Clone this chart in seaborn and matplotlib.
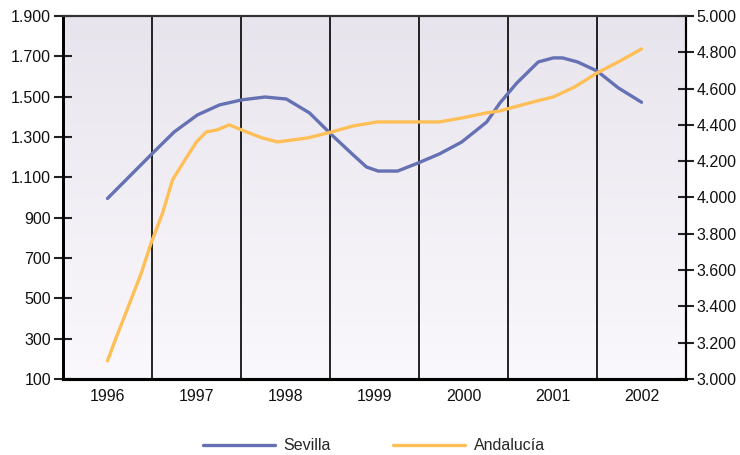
import numpy as np
import pandas as pd
import matplotlib
matplotlib.use("Agg")
import matplotlib.pyplot as plt
from matplotlib.ticker import FixedLocator, FuncFormatter
import seaborn as sns

# Year categories on the x axis
years = [1996, 1997, 1998, 1999, 2000, 2001, 2002]

# Sevilla (left axis)
sevilla_t = [1996.00, 1996.51, 1996.75, 1997.01, 1997.26, 1997.51, 1997.77, 1998.01,
             1998.27, 1998.52, 1998.76, 1998.91, 1999.04, 1999.26, 1999.49, 1999.73,
             1999.98, 2000.26, 2000.41, 2000.60, 2000.84, 2001.01, 2001.11, 2001.28,
             2001.50, 2001.74, 2002.00]
sevilla_v = [995, 1221, 1325, 1409, 1459, 1484, 1498, 1488,
             1419, 1310, 1211, 1151, 1131, 1131, 1171, 1216,
             1275, 1374, 1469, 1568, 1672, 1692, 1692, 1672,
             1627, 1543, 1472]

# Andalucía (right axis)
andalucia_t = [1996.00, 1996.10, 1996.25, 1996.38, 1996.49, 1996.62, 1996.73, 1996.87,
               1997.00, 1997.11, 1997.23, 1997.37, 1997.56, 1997.74, 1997.91, 1998.25,
               1998.52, 1998.76, 1999.03, 1999.73, 1999.98, 2000.26, 2000.41, 2000.78,
               2001.01, 2001.25, 2001.50, 2001.74, 2002.00]
andalucia_v = [3100, 3231, 3419, 3584, 3749, 3915, 4096, 4207,
               4306, 4361, 4372, 4400, 4361, 4328, 4306, 4328,
               4361, 4394, 4416, 4416, 4438, 4466, 4477, 4526,
               4554, 4609, 4686, 4747, 4818]

left_ticks = list(range(100, 2000, 200))
right_ticks = list(range(3000, 5200, 200))

BLUE = "#6571b3"
ORANGE = "#ffbf57"
FS = 11.5

sns.set_style("white")
plt.rcParams["font.family"] = ["Liberation Sans", "DejaVu Sans"]


def miles(v, pos):
    return f"{int(v):,}".replace(",", ".")


df_s = pd.DataFrame({"t": sevilla_t, "v": sevilla_v})
df_a = pd.DataFrame({"t": andalucia_t, "v": andalucia_v})

fig = plt.figure(figsize=(7.4, 4.55), dpi=100)
ax = fig.add_axes([0.0851, 0.167, 0.842, 0.798])
ax2 = ax.twinx()

# soft vertical gradient background
grad = np.linspace(0, 1, 256).reshape(-1, 1)
top = np.array([232, 228, 237]) / 255
bot = np.array([250, 248, 252]) / 255
img = bot + (top - bot) * grad[:, :, None]
ax.imshow(img, extent=[0, 1, 0, 1], transform=ax.transAxes, aspect="auto",
          origin="lower", zorder=0)

for b in [y + 0.5 for y in years[:-1]]:
    ax.axvline(b, color="black", lw=1.2, zorder=1)

sns.lineplot(data=df_s, x="t", y="v", ax=ax, color=BLUE, lw=2.4,
             label="Sevilla", legend=False, zorder=3)
sns.lineplot(data=df_a, x="t", y="v", ax=ax2, color=ORANGE, lw=2.4,
             label="Andalucía", legend=False, zorder=3)

ax.set_xlim(years[0] - 0.5, years[-1] + 0.5)
ax.set_ylim(left_ticks[0], left_ticks[-1])
ax2.set_ylim(right_ticks[0], right_ticks[-1])

ax.set_xlabel("")
ax.set_ylabel("")
ax2.set_ylabel("")

# x: tick marks at the boundaries, labels at the centres
ax.xaxis.set_major_locator(FixedLocator([y - 0.5 for y in years] + [years[-1] + 0.5]))
ax.xaxis.set_major_formatter(FuncFormatter(lambda v, p: ""))
ax.xaxis.set_minor_locator(FixedLocator(years))
ax.set_xticklabels([str(y) for y in years], minor=True)
ax.tick_params(axis="x", which="major", direction="out", length=6.5, width=1.5, color="black")
ax.tick_params(axis="x", which="minor", length=0, labelsize=FS, pad=7, labelcolor="#111111")

ax.set_yticks(left_ticks)
ax.yaxis.set_major_formatter(FuncFormatter(miles))
ax.tick_params(axis="y", direction="inout", length=13, width=1.5, labelsize=FS,
               pad=2, color="#222222", labelcolor="#111111")

ax2.set_yticks(right_ticks)
ax2.yaxis.set_major_formatter(FuncFormatter(miles))
ax2.tick_params(axis="y", direction="inout", length=11, width=1.5, labelsize=FS,
                pad=2, color="#222222", labelcolor="#111111")

for a in (ax, ax2):
    a.spines["left"].set_linewidth(2)
    a.spines["bottom"].set_linewidth(2.2)
    a.spines["right"].set_linewidth(1.5)
    a.spines["top"].set_linewidth(1.5)
    a.spines["top"].set_color("#333333")
    for s in ("left", "bottom", "right"):
        a.spines[s].set_color("black")

handles = ax.get_lines()[-1:] + ax2.get_lines()[-1:]
fig.legend(handles, ["Sevilla", "Andalucía"], loc="center", bbox_to_anchor=(0.505, 0.02),
           ncol=2, frameon=False, handlelength=4.5, columnspacing=3.9,
           handletextpad=0.55, fontsize=FS)

fig.savefig("out.png", dpi=100)
